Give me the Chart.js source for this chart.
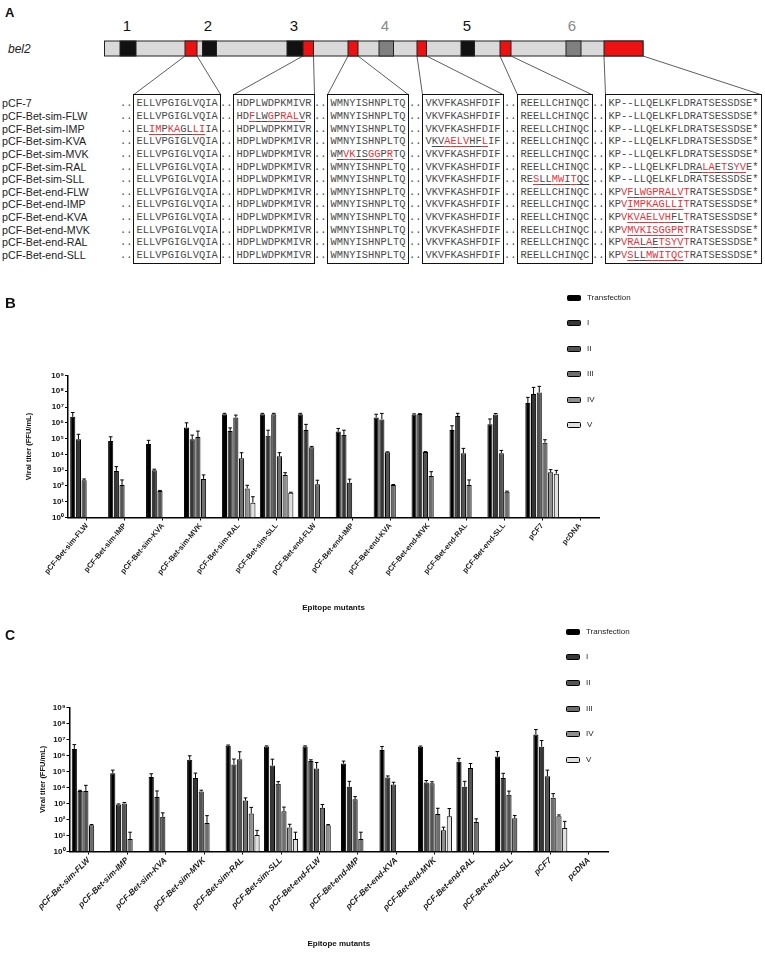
<!DOCTYPE html>
<html><head><meta charset="utf-8">
<script src="https://cdn.jsdelivr.net/npm/chart.js@4.4.1/dist/chart.umd.min.js"></script>
<style>
html,body{margin:0;padding:0;background:#fff;}
#page{position:relative;width:765px;height:960px;overflow:hidden;font-family:"Liberation Sans",Arial,sans-serif;background:#fff;}
.abs{position:absolute;}
.plabel{font-weight:bold;font-size:15px;line-height:15px;color:#111;}
.num{font-size:15px;line-height:15px;width:20px;text-align:center;}
.rowlab{font-size:10.7px;color:#222;white-space:nowrap;line-height:12px;}
.seq{font-family:"Liberation Mono","DejaVu Sans Mono",monospace;font-size:10.42px;color:#4a4a4a;white-space:pre;line-height:12px;}
.r{color:#e3343a;}
.u{text-decoration:underline;text-underline-offset:1.5px;}
.box{border:1.5px solid #111;box-sizing:border-box;}
.leg{font-size:8px;line-height:10px;color:#222;white-space:nowrap;}
.legbox{border:1px solid #000;border-radius:1.5px;box-sizing:border-box;}
</style></head>
<body><div id="page">
<svg id="diag" class="abs" style="left:0;top:0" width="765" height="100"></svg>
<div class="abs plabel" style="left:5px;top:5px;font-size:13px">A</div>
<div class="abs" style="left:8px;top:42px;font-size:12px;font-style:italic;color:#222">bel2</div>
<canvas id="chartB" class="abs" width="765" height="340" style="left:0;top:280px;width:765px;height:340px"></canvas>
<canvas id="chartC" class="abs" width="765" height="340" style="left:0;top:620px;width:765px;height:340px"></canvas>
<div class="abs plabel" style="left:5px;top:295px">B</div>
<div class="abs plabel" style="left:5px;top:628px;font-size:14px">C</div>
</div>
<script>
// ---------- Panel A data ----------
const rowNames = ['pCF-7','pCF-Bet-sim-FLW','pCF-Bet-sim-IMP','pCF-Bet-sim-KVA','pCF-Bet-sim-MVK','pCF-Bet-sim-RAL','pCF-Bet-sim-SLL','pCF-Bet-end-FLW','pCF-Bet-end-IMP','pCF-Bet-end-KVA','pCF-Bet-end-MVK','pCF-Bet-end-RAL','pCF-Bet-end-SLL'];
const boxWild = ['ELLVPGIGLVQIA','HDPLWDPKMIVR','WMNYISHNPLTQ','VKVFKASHFDIF','REELLCHINQC','KP--LLQELKFLDRATSESSDSE*'];
const mutations = [
  {row:1, box:1, seq:'HDFLWGPRALVR', epi:[2,10]},
  {row:2, box:0, seq:'ELIMPKAGLLIIA', epi:[2,10]},
  {row:3, box:3, seq:'VKVAELVHFLIF', epi:[1,9]},
  {row:4, box:2, seq:'WMVKISGGPRTQ', epi:[1,9]},
  {row:5, box:5, seq:'KP--LLQELKFLDRALAETSYVE*', epi:[13,21]},
  {row:6, box:4, seq:'RESLLMWITQC', epi:[2,10]},
  {row:7, box:5, seq:'KPVFLWGPRALVTRATSESSDSE*', epi:[3,11]},
  {row:8, box:5, seq:'KPVIMPKAGLLITRATSESSDSE*', epi:[3,11]},
  {row:9, box:5, seq:'KPVKVAELVHFLTRATSESSDSE*', epi:[3,11]},
  {row:10, box:5, seq:'KPVMVKISGGPRTRATSESSDSE*', epi:[3,11]},
  {row:11, box:5, seq:'KPVRALAETSYVTRATSESSDSE*', epi:[3,11]},
  {row:12, box:5, seq:'KPVSLLMWITQCTRATSESSDSE*', epi:[3,11]}
];
const domainNums = ['1','2','3','4','5','6'];
const domainGray = [false,false,false,true,false,true];

// ---------- Panels B / C data ----------
const categories = ['pCF-Bet-sim-FLW','pCF-Bet-sim-IMP','pCF-Bet-sim-KVA','pCF-Bet-sim-MVK','pCF-Bet-sim-RAL','pCF-Bet-sim-SLL','pCF-Bet-end-FLW','pCF-Bet-end-IMP','pCF-Bet-end-KVA','pCF-Bet-end-MVK','pCF-Bet-end-RAL','pCF-Bet-end-SLL','pCF7','pcDNA'];
const seriesNames = ['Transfection','I','II','III','IV','V'];
const yTickValues = [1,10,100,1e3,1e4,1e5,1e6,1e7,1e8,1e9];
const yTickLabels = ['10\u2070','10\u00B9','10\u00B2','10\u00B3','10\u2074','10\u2075','10\u2076','10\u2077','10\u2078','10\u2079'];
const N = null;

const B_transfection = [2.4e6, 7e4, 4.6e4, 5e5, 3.5e6, 3.5e6, 3.5e6, 2.8e5, 2.2e6, 3.4e6, 3.5e5, 8e5, 1.8e7, N];
const B_I   = [9e4, 900, 1000, 9e4, 3e5, 1.5e5, 3.5e5, 1.7e5, 1.65e6, 3.6e6, 2.7e6, 3.4e6, 6.7e7, N];
const B_II  = [230, 115, 48, 1.25e5, 2.2e6, 3.5e6, 2.8e4, 160, 1.35e4, 1.4e4, 1.2e4, 1.2e4, 8.5e7, N];
const B_III = [N, N, N, 280, 5.6e3, 7.6e3, 130, N, 115, 430, 115, 43, 5.5e4, N];
const B_IV  = [N, N, N, N, 70, 490, N, N, N, N, N, N, 730, N];
const B_V   = [N, N, N, N, 8.7, 37, N, N, N, N, N, N, 600, N];
const B_transfection_sd = [2.1e6, 6e4, 3.2e4, 5e5, 5e5, 5e5, 5e5, 1.6e5, 1.3e6, 3e5, 3e5, 9.5e5, 2.3e7, N];
const B_I_sd   = [9.8e4, 780, 150, 7.7e4, 1.75e5, 1.9e5, 4.5e5, 1.7e5, 2.3e6, 2e5, 1.3e6, 5e5, 1.1e8, N];
const B_II_sd  = [46, 125, 4, 1.75e5, 9e5, 5e5, 4e3, 110, 1e3, 1e3, 1.2e4, 5.9e3, 1.2e8, N];
const B_III_sd = [N, N, N, 220, 7.2e3, 5.3e3, 100, N, 8, 370, 125, 4, 3e4, N];
const B_IV_sd  = [N, N, N, N, 40, 200, N, N, N, N, N, N, 350, N];
const B_V_sd   = [N, N, N, N, 12, 3, N, N, N, N, N, N, 370, N];

const C_transfection = [2.5e6, 7.6e4, 4.5e4, 5.3e5, 4e6, 3.6e6, 3.6e6, 3.1e5, 2.2e6, 3.5e6, 4e5, 8.5e5, 2e7, N];
const C_I   = [6e3, 870, 2.5e3, 3.9e4, 2.7e5, 2.3e5, 4.4e5, 1.1e4, 4.1e4, 2e4, 1.1e4, 3.9e4, 3.5e6, N];
const C_II  = [5.9e3, 1e3, 145, 5.6e3, 5.8e5, 1.7e4, 1.5e5, 1.8e3, 1.5e4, 1.8e4, 1.6e5, 3.5e3, 5e4, N];
const C_III = [43, 6, N, 60, 1.5e3, 330, 530, 6, N, 220, 70, 120, 2.3e3, N];
const C_IV  = [N, N, N, N, 235, 32, 43, N, N, 21, N, N, 160, N];
const C_V   = [N, N, N, N, 10.7, 6, N, N, N, 160, N, N, 29, N];
const C_transfection_sd = [2.2e6, 4.4e4, 2.6e4, 4.1e5, 4e5, 3e5, 3e5, 1.3e5, 1.4e6, 3e5, 2.5e5, 8.8e5, 2.1e7, N];
const C_I_sd   = [600, 60, 3.5e3, 3.9e4, 3.2e5, 3.5e5, 9e4, 1.3e4, 1.1e4, 7e3, 1.3e4, 3.7e4, 4.9e6, N];
const C_II_sd  = [7.6e3, 150, 113, 1.1e3, 1.1e6, 6e3, 2.1e5, 870, 6e3, 4.6e3, 1.5e5, 2.4e3, 7e4, N];
const C_III_sd = [5, 10, N, 113, 720, 260, 330, 10, N, 280, 39, 58, 1.8e3, N];
const C_IV_sd  = [N, N, N, N, 330, 18, 5, N, N, 12, N, N, 32, N];
const C_V_sd   = [N, N, N, N, 10, 10, N, N, N, 320, N, N, 47, N];

const seriesColors = ['#000000','#363636','#545454','#6e6e6e','#8f8f8f','#e0e0e0'];

// ---------- Panel A drawing ----------
const page = document.getElementById('page');
const SVGNS = 'http://www.w3.org/2000/svg';
const svg = document.getElementById('diag');
function srect(x,y,w,h,fill){const r=document.createElementNS(SVGNS,'rect');r.setAttribute('x',x);r.setAttribute('y',y);r.setAttribute('width',w);r.setAttribute('height',h);r.setAttribute('fill',fill);r.setAttribute('stroke','#222');r.setAttribute('stroke-width','1');svg.appendChild(r);}
function sline(x1,y1,x2,y2){const l=document.createElementNS(SVGNS,'line');l.setAttribute('x1',x1);l.setAttribute('y1',y1);l.setAttribute('x2',x2);l.setAttribute('y2',y2);l.setAttribute('stroke','#333');l.setAttribute('stroke-width','0.8');svg.appendChild(l);}
const BAR_T = 41, BAR_H = 15;
srect(104.5, BAR_T, 538.5, BAR_H, '#d9d9d9');
const blocks = [
  [120,136,'#111'],[185,197,'#ee1111'],[202.5,216.5,'#111'],[287,303,'#111'],[303,313.5,'#ee1111'],
  [348,358,'#ee1111'],[379,393.5,'#808080'],[417,426.5,'#ee1111'],[461,474.5,'#111'],
  [500,511,'#ee1111'],[566,581,'#808080'],[604,643,'#ee1111']
];
blocks.forEach(b=>srect(b[0],BAR_T,b[1]-b[0],BAR_H,b[2]));
const numX = [127,208,294,385,467,572];
domainNums.forEach((n,i)=>{const d=document.createElement('div');d.className='abs num';d.style.left=(numX[i]-10)+'px';d.style.top='18px';d.style.color=domainGray[i]?'#8a8a8a':'#111';d.textContent=n;page.appendChild(d);});

const CW = 6.25, ROW0 = 103.3, ROWH = 12.64, BOXTOP = 94.3, BOXBOT = 264;
const BOXL = [133,233,327,422,517,605];
const redEdges = [[185,197],[303,313.5],[348,358],[417,426.5],[500,511],[604,643]];
boxWild.forEach((w,k)=>{
  const bw = w.length*CW + 7;
  const bx = document.createElement('div'); bx.className='abs box';
  bx.style.left=BOXL[k]+'px'; bx.style.top=BOXTOP+'px'; bx.style.width=bw+'px'; bx.style.height=(BOXBOT-BOXTOP)+'px';
  page.appendChild(bx);
  sline(redEdges[k][0], BAR_T+BAR_H, BOXL[k]+0.5, BOXTOP+0.5);
  sline(redEdges[k][1], BAR_T+BAR_H, BOXL[k]+bw-0.5, BOXTOP+0.5);
});
rowNames.forEach((name,r)=>{
  const y = ROW0 + r*ROWH - 6;
  const lab = document.createElement('div'); lab.className='abs rowlab'; lab.style.left='2px'; lab.style.top=y+'px'; lab.textContent=name; page.appendChild(lab);
  boxWild.forEach((w,k)=>{
    const dots = document.createElement('div'); dots.className='abs seq'; dots.style.left=(BOXL[k]-13)+'px'; dots.style.top=y+'px'; dots.textContent='..'; page.appendChild(dots);
    const m = mutations.find(mm=>mm.row===r && mm.box===k);
    const s = m ? m.seq : w;
    const sd = document.createElement('div'); sd.className='abs seq'; sd.style.left=(BOXL[k]+3.5)+'px'; sd.style.top=y+'px';
    for (let i=0;i<s.length;i++){
      const sp = document.createElement('span'); sp.textContent = s[i];
      const cls = [];
      if (m && s[i]!==w[i]) cls.push('r');
      if (m && i>=m.epi[0] && i<=m.epi[1]) cls.push('u');
      sp.className = cls.join(' ');
      sd.appendChild(sp);
    }
    page.appendChild(sd);
  });
});

// ---------- Charts ----------
const errorBarPlugin = {
  id:'errbars',
  afterDatasetsDraw(chart){
    const ctx = chart.ctx, ys = chart.scales.y;
    ctx.save(); ctx.strokeStyle='#000'; ctx.lineWidth=1;
    chart.data.datasets.forEach((d,i)=>{
      const meta = chart.getDatasetMeta(i);
      meta.data.forEach((el,j)=>{
        const v = d.data[j], e = d.errors[j];
        if (v==null || !e) return;
        const yTop = ys.getPixelForValue(v+e);
        ctx.beginPath();
        ctx.moveTo(el.x, el.y); ctx.lineTo(el.x, yTop);
        ctx.moveTo(el.x-1.8, yTop); ctx.lineTo(el.x+1.8, yTop);
        ctx.stroke();
      });
    });
    ctx.restore();
  }
};

function makeChart(id, series, errs, geo){
  const datasets = seriesNames.map((n,i)=>({
    label:n, data:series[i], errors:errs[i], backgroundColor:seriesColors[i],
    borderColor:'#000', borderWidth:1, barPercentage:0.9, categoryPercentage:0.9
  }));
  return new Chart(document.getElementById(id), {
    type:'bar',
    data:{labels:categories, datasets},
    options:{
      responsive:false, animation:false, devicePixelRatio:1,
      layout:{padding:{left:geo.padL, right:geo.padR, top:geo.padT, bottom:geo.padB}},
      plugins:{legend:{display:false}, tooltip:{enabled:false}},
      scales:{
        x:{
          type:'category', offset:true,
          grid:{display:true, offset:false, drawOnChartArea:false, drawTicks:true, tickLength:3, color:'#000', lineWidth:1},
          border:{display:true, color:'#000', width:1.5},
          ticks:{autoSkip:false, maxRotation:geo.rot, minRotation:geo.rot, padding:1, color:'#1a1a1a',
                 font:{family:'Liberation Sans', size:geo.xfs, weight:'bold', style:geo.italic?'italic':'normal'}},
          title:{display:true, text:'Epitope mutants', color:'#111', padding:0, font:{family:'Liberation Sans', size:8, weight:'bold'}},
          afterFit:s=>{s.height = geo.xH;}
        },
        y:{
          type:'logarithmic', min:1, max:1e9,
          afterBuildTicks:s=>{s.ticks = yTickValues.map(v=>({value:v}));},
          ticks:{autoSkip:false, padding:1, color:'#111', callback:(v,i)=>yTickLabels[i],
                 font:{family:'Liberation Sans', size:8, weight:'bold'}},
          grid:{display:true, drawOnChartArea:false, drawTicks:true, tickLength:3, color:'#000', lineWidth:1},
          border:{display:true, color:'#000', width:1.5},
          title:{display:true, text:'Viral titer (FFU/mL)', color:'#111', padding:0, font:{family:'Liberation Sans', size:7.5, weight:'bold'}},
          afterFit:s=>{s.width = geo.yW;}
        }
      }
    },
    plugins:[errorBarPlugin]
  });
}

const chartB = makeChart('chartB',
  [B_transfection,B_I,B_II,B_III,B_IV,B_V],
  [B_transfection_sd,B_I_sd,B_II_sd,B_III_sd,B_IV_sd,B_V_sd],
  {padL:24, yW:44, padR:166, padT:95.5, padB:7.2, xH:95.3, rot:50, xfs:7.6, italic:false});
const chartC = makeChart('chartC',
  [C_transfection,C_I,C_II,C_III,C_IV,C_V],
  [C_transfection_sd,C_I_sd,C_II_sd,C_III_sd,C_IV_sd,C_V_sd],
  {padL:38.8, yW:30.7, padR:157, padT:87.3, padB:11.2, xH:97.3, rot:45, xfs:8.3, italic:true});

function makeLegend(chart, y0, step, boxL, boxW, textL){
  chart.data.datasets.forEach((d,i)=>{
    const yc = y0 + i*step;
    const b = document.createElement('div'); b.className='abs legbox';
    b.style.left=boxL+'px'; b.style.top=(yc-3)+'px'; b.style.width=boxW+'px'; b.style.height='6px'; b.style.background=d.backgroundColor;
    page.appendChild(b);
    const t = document.createElement('div'); t.className='abs leg';
    t.style.left=textL+'px'; t.style.top=(yc-5)+'px'; t.textContent=d.label;
    page.appendChild(t);
  });
}
makeLegend(chartB, 298, 25.4, 567, 13.5, 587);
makeLegend(chartC, 631.7, 25.6, 566, 14, 586);
</script>
</body></html>
